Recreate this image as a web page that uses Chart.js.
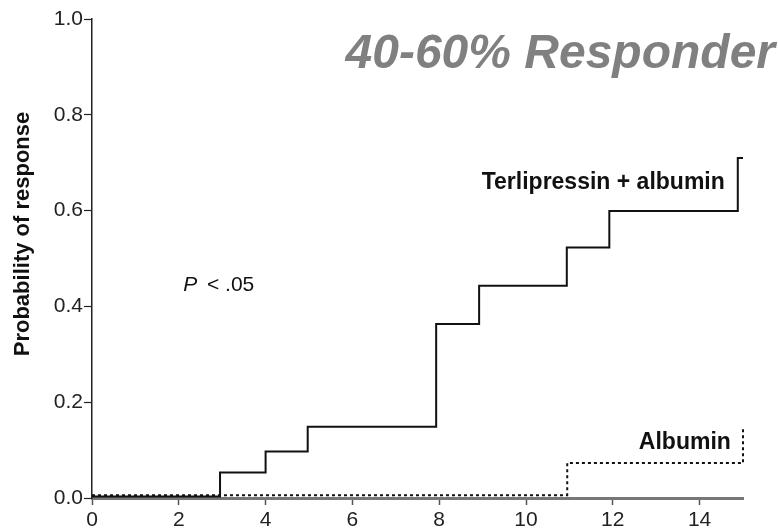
<!DOCTYPE html>
<html lang="en">
<head>
    <meta charset="UTF-8">
    <title>40-60% Responder</title>
    <script src="https://cdn.jsdelivr.net/npm/chart.js"></script>
    <style>
        body {
            margin: 0;
            padding: 0;
            background: #fff;
        }

        .chart-box {
            position: relative;
            width: 778px;
            height: 530px;
        }
    </style>
</head>
<body>
    <div class="chart-box">
        <canvas id="responseChart"></canvas>
    </div>

    <script>
        // step times (days) and probability of response
        const terliTimes = [0, 2.95, 4, 4.97, 7.93, 8.92, 10.94, 11.92, 14.88, 15];
        const terliProb = [0.003, 0.053, 0.097, 0.149, 0.363, 0.443, 0.523, 0.599, 0.71, 0.71];
        const albuminTimes = [0, 10.95, 15];
        const albuminProb = [0.006, 0.073, 0.15];

        const xTicks = [0, 2, 4, 6, 8, 10, 12, 14];
        const yTicks = [0, 0.2, 0.4, 0.6, 0.8, 1.0];

        const FONT = '"Liberation Sans", Arial, Helvetica, sans-serif';

        function toPoints(xs, ys) {
            return xs.map((x, i) => ({ x: x, y: ys[i] }));
        }

        // text that sits on the plot: title, axis label and curve labels
        const labelsPlugin = {
            id: 'labels',
            afterDraw(chart) {
                const ctx = chart.ctx;
                const x = chart.scales.x;
                const y = chart.scales.y;
                ctx.save();

                ctx.fillStyle = '#808080';
                ctx.font = 'italic bold 48px ' + FONT;
                ctx.textAlign = 'right';
                ctx.textBaseline = 'alphabetic';
                ctx.fillText('40-60% Responder', 775, 68);

                ctx.fillStyle = '#111';
                ctx.font = 'bold 23px ' + FONT;
                ctx.textAlign = 'right';
                ctx.textBaseline = 'middle';
                ctx.fillText('Terlipressin + albumin', x.getPixelForValue(14.58), y.getPixelForValue(0.658));
                ctx.fillText('Albumin', x.getPixelForValue(14.72), y.getPixelForValue(0.115));

                ctx.textAlign = 'left';
                ctx.font = 'italic 21px ' + FONT;
                const px = x.getPixelForValue(2.1);
                const py = y.getPixelForValue(0.444);
                ctx.fillText('P', px, py);
                ctx.font = '21px ' + FONT;
                ctx.fillText(' < .05', px + ctx.measureText('P').width + 4, py);

                ctx.translate(23, 234);
                ctx.rotate(-Math.PI / 2);
                ctx.textAlign = 'center';
                ctx.font = 'bold 22px ' + FONT;
                ctx.fillText('Probability of response', 0, 0);
                ctx.restore();
            }
        };

        const responseChart = new Chart(document.getElementById('responseChart').getContext('2d'), {
            type: 'line',
            data: {
                datasets: [{
                    label: 'Terlipressin + albumin',
                    data: toPoints(terliTimes, terliProb),
                    borderColor: '#111',
                    borderWidth: 2,
                    stepped: 'before',
                    pointRadius: 0,
                    fill: false,
                    clip: 6
                }, {
                    label: 'Albumin',
                    data: toPoints(albuminTimes, albuminProb),
                    borderColor: '#111',
                    borderWidth: 2,
                    borderDash: [3, 3],
                    stepped: 'before',
                    pointRadius: 0,
                    fill: false,
                    clip: 6
                }]
            },
            options: {
                responsive: true,
                maintainAspectRatio: false,
                animation: false,
                layout: {
                    padding: { top: 19, right: 35, left: 0, bottom: 0 }
                },
                plugins: {
                    legend: { display: false },
                    tooltip: { enabled: false }
                },
                scales: {
                    x: {
                        type: 'linear',
                        min: 0,
                        max: 15,
                        afterFit: (scale) => { scale.height = 32; },
                        afterBuildTicks: (scale) => {
                            scale.ticks = xTicks.map(v => ({ value: v }));
                        },
                        grid: {
                            drawOnChartArea: false,
                            drawTicks: true,
                            tickLength: 7,
                            color: '#555',
                            tickWidth: 1.5
                        },
                        border: { display: true, color: '#777', width: 3 },
                        ticks: {
                            padding: 3,
                            color: '#222',
                            font: { family: FONT, size: 21 },
                            maxRotation: 0,
                            autoSkip: false
                        }
                    },
                    y: {
                        min: 0,
                        max: 1,
                        afterFit: (scale) => { scale.width = 92; },
                        afterBuildTicks: (scale) => {
                            scale.ticks = yTicks.map(v => ({ value: v }));
                        },
                        grid: {
                            drawOnChartArea: false,
                            drawTicks: true,
                            tickLength: 8,
                            color: '#222',
                            tickWidth: 1.2
                        },
                        border: { display: true, color: '#222', width: 1.5 },
                        ticks: {
                            padding: 1,
                            color: '#222',
                            font: { family: FONT, size: 21 },
                            callback: (v) => Number(v).toFixed(1)
                        }
                    }
                }
            },
            plugins: [labelsPlugin]
        });
    </script>
</body>
</html>
